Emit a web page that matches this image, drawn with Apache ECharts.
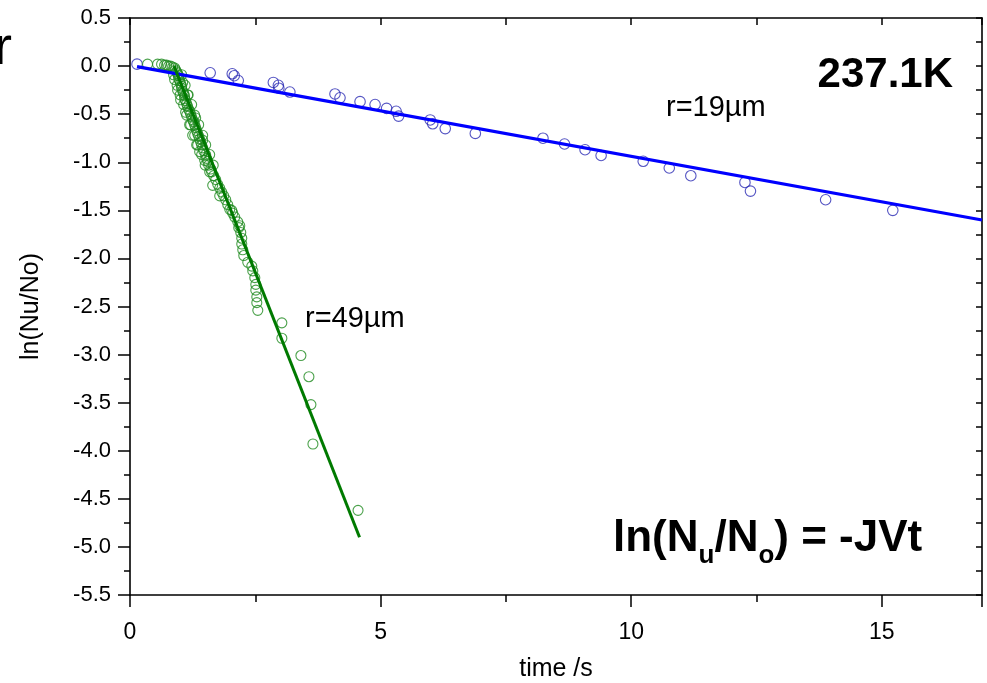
<!DOCTYPE html>
<html>
<head>
<meta charset="utf-8">
<script src="https://cdn.jsdelivr.net/npm/echarts@6/dist/echarts.min.js"></script>
<style>
html,body{margin:0;padding:0;background:#fff;}
#chart{width:987px;height:683px;}
</style>
</head>
<body>
<div id="chart"></div>
<script>
// ---- data ----
const xTicks = [0, 5, 10, 15];
const yTicks = [0.5, 0.0, -0.5, -1.0, -1.5, -2.0, -2.5, -3.0, -3.5, -4.0, -4.5, -5.0, -5.5];

// r = 19 µm (blue)
const blueT = [0.14,1.60,2.04,2.08,2.16,2.86,2.96,2.97,3.19,4.09,4.19,4.59,4.89,5.12,5.31,5.36,5.99,6.04,6.29,6.89,8.24,8.67,9.08,9.40,10.24,10.76,11.19,12.27,12.38,13.88,15.22];
const blueY = [0.02,-0.07,-0.08,-0.10,-0.15,-0.17,-0.20,-0.23,-0.27,-0.29,-0.33,-0.37,-0.40,-0.44,-0.47,-0.52,-0.56,-0.60,-0.65,-0.70,-0.75,-0.81,-0.87,-0.93,-0.99,-1.06,-1.14,-1.21,-1.30,-1.39,-1.50];
const blueFitT = [0.14, 17];
const blueFitY = [-0.005, -1.60];

// r = 49 µm (green)
const greenT = [0.35,0.55,0.63,0.69,0.73,0.77,0.81,0.85,0.89,0.91,0.93,0.95,0.97,0.97,0.99,1.01,1.03,1.03,1.05,1.07,1.09,1.09,1.11,1.13,1.15,1.17,1.19,1.21,1.23,1.25,1.27,1.29,1.31,1.33,1.35,1.37,1.39,1.41,1.43,1.45,1.47,1.51,1.53,1.55,1.57,1.61,1.63,1.67,1.71,1.75,1.79,1.83,1.87,1.91,1.95,1.99,2.05,2.09,2.15,2.19,2.21,2.23,2.23,2.25,2.27,2.35,2.43,2.45,2.49,2.51,2.51,2.53,2.53,2.55,3.03,3.03,3.41,3.57,3.61,3.65,4.55,
  0.89,0.95,1.01,1.11,1.19,1.25,1.33,1.39,1.05,1.15,1.31,1.45,1.49,1.65,1.59,1.79,2.03,2.17,
  0.87,1.03,0.94,1.10,1.00,1.16,1.07,1.23,1.13,1.29,1.21,1.37,1.29,1.45,1.35,1.51,1.43,1.59,1.50,1.66];
const greenY = [0.02,0.02,0.02,0.01,0.01,0.00,0.00,-0.01,-0.02,-0.04,-0.06,-0.08,-0.10,-0.13,-0.15,-0.18,-0.21,-0.23,-0.26,-0.28,-0.31,-0.34,-0.36,-0.39,-0.42,-0.45,-0.47,-0.50,-0.53,-0.56,-0.58,-0.61,-0.64,-0.67,-0.70,-0.73,-0.76,-0.79,-0.82,-0.85,-0.88,-0.92,-0.96,-0.99,-1.03,-1.07,-1.10,-1.14,-1.18,-1.23,-1.27,-1.31,-1.35,-1.39,-1.44,-1.49,-1.53,-1.57,-1.62,-1.66,-1.73,-1.79,-1.85,-1.91,-1.97,-2.04,-2.08,-2.13,-2.20,-2.27,-2.33,-2.40,-2.46,-2.54,-2.67,-2.83,-3.01,-3.23,-3.52,-3.93,-4.62,
  -0.14,-0.25,-0.35,-0.48,-0.61,-0.72,-0.82,-0.89,-0.17,-0.30,-0.54,-0.77,-0.98,-1.24,-1.10,-1.35,-1.50,-1.68,
  -0.09,-0.09,-0.20,-0.20,-0.30,-0.30,-0.40,-0.40,-0.51,-0.51,-0.61,-0.61,-0.72,-0.72,-0.82,-0.82,-0.92,-0.92,-1.03,-1.03];
const greenFitT = [0.88, 4.58];
const greenFitY = [0.0, -4.90];

// formula pieces: [text, isSubscript]
const formulaParts = [['ln(N', false], ['u', true], ['/N', false], ['o', true], [') = -JVt', false]];

// ---- build ----
const zip = (a, b) => a.map((v, i) => [v, b[i]]);
const FONT = "'Liberation Sans', Arial, Helvetica, sans-serif";
const BLACK = '#000';

const chart = echarts.init(document.getElementById('chart'), null, {renderer: 'canvas'});

const baseLine = {show: true, onZero: false, lineStyle: {color: BLACK, width: 1.6}};

// formula laid out as pieces measured with the canvas
const MAIN_FS = 44, SUB_FS = 26;
const mctx = document.createElement('canvas').getContext('2d');
const formulaGraphics = [];
let fx = 613;
formulaParts.forEach(([txt, sub]) => {
  const fs = sub ? SUB_FS : MAIN_FS;
  mctx.font = 'bold ' + fs + 'px ' + FONT;
  const w = mctx.measureText(txt).width;
  formulaGraphics.push({
    type: 'text', x: fx, y: sub ? 556 : 539,
    style: {text: txt, fontSize: fs, fontWeight: 'bold', fontFamily: FONT, fill: BLACK,
      align: 'left', verticalAlign: 'middle'}
  });
  fx += w;
});

const option = {
  animation: false,
  backgroundColor: '#fff',
  grid: {left: 130, right: 5, top: 18, bottom: 88, containLabel: false, outerBoundsMode: 'none'},
  xAxis: [
    {
      type: 'value', position: 'bottom', min: 0, max: 17, interval: 5,
      axisLine: baseLine,
      axisTick: {show: true, inside: false, length: 12, lineStyle: {color: BLACK, width: 1.5}},
      axisLabel: {show: true, margin: 26, fontSize: 23, color: BLACK, fontFamily: FONT,
        formatter: v => (xTicks.indexOf(v) >= 0 ? String(v) : '')},
      splitLine: {show: false},
      name: 'time /s', nameLocation: 'middle', nameGap: 62,
      nameTextStyle: {fontSize: 25, color: BLACK, fontFamily: FONT}
    },
    {
      type: 'value', position: 'bottom', min: 0, max: 17, interval: 2.5,
      axisLine: {show: false, onZero: false},
      axisTick: {show: true, inside: false, length: 7, lineStyle: {color: BLACK, width: 1.5}},
      axisLabel: {show: false}, splitLine: {show: false}
    },
    {
      type: 'value', position: 'top', min: 0, max: 17, interval: 2.5,
      axisLine: baseLine,
      axisTick: {show: true, inside: true, length: 7, lineStyle: {color: BLACK, width: 1.5}},
      axisLabel: {show: false}, splitLine: {show: false}
    }
  ],
  yAxis: [
    {
      type: 'value', position: 'left', min: -5.5, max: 0.5, interval: 0.5,
      axisLine: baseLine,
      axisTick: {show: true, inside: false, length: 12, lineStyle: {color: BLACK, width: 1.5}},
      minorTick: {show: true, splitNumber: 2, length: 6, lineStyle: {color: BLACK, width: 1.5}},
      axisLabel: {show: true, margin: 19, fontSize: 22, color: BLACK, fontFamily: FONT,
        formatter: v => {
          const m = yTicks.find(t => Math.abs(t - v) < 1e-9);
          return m === undefined ? '' : m.toFixed(1);
        }},
      splitLine: {show: false}, minorSplitLine: {show: false},
      name: 'ln(Nu/No)', nameLocation: 'middle', nameGap: 86, nameRotate: 90,
      nameTextStyle: {fontSize: 25, color: BLACK, fontFamily: FONT}
    },
    {
      type: 'value', position: 'right', min: -5.5, max: 0.5, interval: 0.25,
      axisLine: baseLine,
      axisTick: {show: true, inside: true, length: 6, lineStyle: {color: BLACK, width: 1.5}},
      axisLabel: {show: false}, splitLine: {show: false}
    }
  ],
  series: [
    {
      type: 'scatter', name: 'r=19', xAxisIndex: 0, yAxisIndex: 0,
      data: zip(blueT, blueY), symbol: 'circle', symbolSize: 10.5, z: 3,
      itemStyle: {color: 'rgba(0,0,0,0)', borderColor: '#2a2ab4', borderWidth: 1.1}
    },
    {
      type: 'scatter', name: 'r=49', xAxisIndex: 0, yAxisIndex: 0,
      data: zip(greenT, greenY), symbol: 'circle', symbolSize: 10, z: 3,
      itemStyle: {color: 'rgba(0,0,0,0)', borderColor: '#1e8a1e', borderWidth: 1.1}
    },
    {
      type: 'line', xAxisIndex: 0, yAxisIndex: 0, data: zip(blueFitT, blueFitY),
      symbol: 'none', z: 4, lineStyle: {color: '#0000ff', width: 3.2}
    },
    {
      type: 'line', xAxisIndex: 0, yAxisIndex: 0, data: zip(greenFitT, greenFitY),
      symbol: 'none', z: 4, lineStyle: {color: '#007a00', width: 3}
    }
  ],
  graphic: [
    {type: 'text', left: -6, top: 22, style: {text: 'r', fontSize: 54, fill: BLACK, fontFamily: FONT}},
    {type: 'text', x: 953, y: 75, style: {text: '237.1K', fontSize: 42, fontWeight: 'bold', fill: BLACK,
      fontFamily: FONT, align: 'right', verticalAlign: 'middle'}},
    {type: 'text', x: 666, y: 108, style: {text: 'r=19µm', fontSize: 29, fill: BLACK,
      fontFamily: FONT, align: 'left', verticalAlign: 'middle'}},
    {type: 'text', x: 305, y: 319, style: {text: 'r=49µm', fontSize: 29, fill: BLACK,
      fontFamily: FONT, align: 'left', verticalAlign: 'middle'}}
  ].concat(formulaGraphics)
};
chart.setOption(option);
</script>
</body>
</html>
